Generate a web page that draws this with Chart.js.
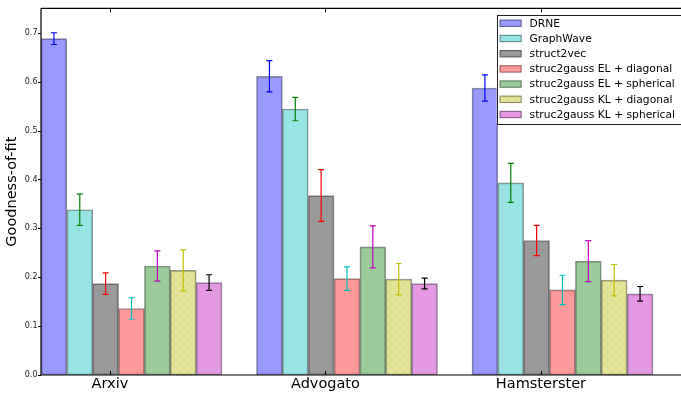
<!DOCTYPE html>
<html>
<head>
<meta charset="utf-8">
<style>
  html, body { margin: 0; padding: 0; background: #ffffff; }
  #wrap { width: 681px; height: 393px; }
</style>
<script src="https://cdn.jsdelivr.net/npm/chart.js@4/dist/chart.umd.min.js"></script>
</head>
<body>
<div id="wrap"><canvas id="chart" width="681" height="393"></canvas></div>
<script>
// Datasets (graphs) on the x axis
const categories = ['Arxiv', 'Advogato', 'Hamsterster'];

// Methods, in legend order
const methods = [
  'DRNE',
  'GraphWave',
  'struct2vec',
  'struc2gauss EL + diagonal',
  'struc2gauss EL + spherical',
  'struc2gauss KL + diagonal',
  'struc2gauss KL + spherical'
];

// Goodness-of-fit per method (Arxiv, Advogato, Hamsterster)
const drne        = [0.688, 0.611, 0.587];
const graphWave   = [0.338, 0.544, 0.393];
const struct2vec  = [0.187, 0.367, 0.275];
const elDiagonal  = [0.136, 0.197, 0.174];
const elSpherical = [0.223, 0.262, 0.233];
const klDiagonal  = [0.214, 0.196, 0.194];
const klSpherical = [0.189, 0.187, 0.166];

// Half-width of the error bars (standard deviation)
const drneErr        = [0.012, 0.032, 0.027];
const graphWaveErr   = [0.032, 0.024, 0.040];
const struct2vecErr  = [0.022, 0.053, 0.031];
const elDiagonalErr  = [0.022, 0.024, 0.030];
const elSphericalErr = [0.031, 0.043, 0.042];
const klDiagonalErr  = [0.042, 0.032, 0.032];
const klSphericalErr = [0.016, 0.011, 0.015];

// Y axis tick values
const yTickValues = [0.0, 0.1, 0.2, 0.3, 0.4, 0.5, 0.6, 0.7];

const seriesValues = [drne, graphWave, struct2vec, elDiagonal, elSpherical, klDiagonal, klSpherical];
const seriesErrors = [drneErr, graphWaveErr, struct2vecErr, elDiagonalErr, elSphericalErr, klDiagonalErr, klSphericalErr];

// Styling
const fillColors = [
  'rgba(0,0,255,0.4)', 'rgba(0,191,191,0.4)', 'rgba(0,0,0,0.4)', 'rgba(255,0,0,0.4)',
  'rgba(0,128,0,0.4)', 'rgba(191,191,0,0.4)', 'rgba(191,0,191,0.4)'
];
const hatches = [null, 'dots', null, null, null, 'cross', null];
const errorColors = ['#0000ff', '#008000', '#ff0000', '#00bfbf', '#bf00bf', '#bfbf00', '#000000'];
const edgeColor = 'rgba(0,0,0,0.42)';
const barStep = 0.12;      // bar width in x units; groups sit at integer x
const tickOffset = 0.32;   // group label position inside each group
const FONT = '"DejaVu Sans", "Liberation Sans", sans-serif';

// Faint hatch fill: base colour with a light texture on top
function hatchFill(color, kind) {
  if (!kind) return color;
  const size = 8;
  const c = document.createElement('canvas');
  c.width = size; c.height = size;
  const g = c.getContext('2d');
  g.fillStyle = color;
  g.fillRect(0, 0, size, size);
  g.strokeStyle = 'rgba(0,0,0,0.04)';
  g.fillStyle = 'rgba(0,0,0,0.04)';
  g.lineWidth = 1;
  if (kind === 'dots') {
    g.beginPath(); g.arc(2, 2, 1.2, 0, Math.PI * 2); g.fill();
    g.beginPath(); g.arc(6, 6, 1.2, 0, Math.PI * 2); g.fill();
  } else if (kind === 'cross') {
    g.beginPath();
    g.moveTo(0, 0); g.lineTo(size, size);
    g.moveTo(size, 0); g.lineTo(0, size);
    g.stroke();
  }
  return g.createPattern(c, 'repeat');
}

const datasets = methods.map((name, i) => ({
  label: name,
  data: categories.map((c, g) => ({ x: g + i * barStep + barStep / 2, y: seriesValues[i][g] })),
  errors: seriesErrors[i],
  errorColor: errorColors[i],
  backgroundColor: hatchFill(fillColors[i], hatches[i]),
  borderColor: edgeColor,
  borderWidth: 1,
  borderSkipped: false,
  grouped: false,
  barPercentage: 1,
  categoryPercentage: 1
}));

// Error bars with caps
const errorBars = {
  id: 'errorBars',
  afterDatasetsDraw(chart) {
    const ctx = chart.ctx;
    const y = chart.scales.y;
    chart.data.datasets.forEach((ds, di) => {
      const meta = chart.getDatasetMeta(di);
      meta.data.forEach((bar, i) => {
        const v = ds.data[i].y, e = ds.errors[i];
        const top = y.getPixelForValue(v + e);
        const bot = y.getPixelForValue(v - e);
        const x = bar.x;
        ctx.save();
        ctx.strokeStyle = ds.errorColor;
        ctx.lineWidth = 1.2;
        ctx.beginPath();
        ctx.moveTo(x, top); ctx.lineTo(x, bot);
        ctx.moveTo(x - 3, top); ctx.lineTo(x + 3, top);
        ctx.moveTo(x - 3, bot); ctx.lineTo(x + 3, bot);
        ctx.stroke();
        ctx.restore();
      });
    });
  }
};

// Axes frame and tick marks
const frame = {
  id: 'frame',
  afterDraw(chart) {
    const ctx = chart.ctx, a = chart.chartArea;
    const x = chart.scales.x, y = chart.scales.y;
    ctx.save();
    ctx.strokeStyle = '#000';
    ctx.lineWidth = 1.2;
    ctx.beginPath();
    ctx.moveTo(a.left, a.top); ctx.lineTo(a.right, a.top);
    ctx.moveTo(a.left, a.top); ctx.lineTo(a.left, a.bottom);
    ctx.moveTo(a.left, a.bottom); ctx.lineTo(a.right, a.bottom);
    ctx.stroke();
    ctx.lineWidth = 1;
    ctx.beginPath();
    x.ticks.forEach(t => {
      const px = Math.round(x.getPixelForValue(t.value)) + 0.5;
      ctx.moveTo(px, a.bottom); ctx.lineTo(px, a.bottom - 4);
      ctx.moveTo(px, a.top); ctx.lineTo(px, a.top + 4);
    });
    y.ticks.forEach(t => {
      const py = Math.round(y.getPixelForValue(t.value)) + 0.5;
      ctx.moveTo(a.left, py); ctx.lineTo(a.left - 3, py);
    });
    ctx.stroke();
    ctx.restore();
  }
};

// Legend box in the upper right corner
const legendBox = {
  id: 'legendBox',
  afterDraw(chart) {
    const ctx = chart.ctx, a = chart.chartArea;
    const ds = chart.data.datasets;
    ctx.save();
    ctx.font = '10.7px ' + FONT;
    const maxW = Math.max(...ds.map(d => ctx.measureText(d.label).width));
    const swW = 22, swH = 7.3, rowH = 15.2;
    const boxW = 3 + swW + 8 + maxW + 6;
    const left = a.right - boxW;
    const top = a.top + 6.3;
    const boxH = rowH * ds.length + 2.8;
    ctx.fillStyle = '#fff';
    ctx.fillRect(left, top, boxW + 10, boxH);
    ctx.strokeStyle = '#222';
    ctx.lineWidth = 1;
    ctx.strokeRect(Math.round(left) + 0.5, Math.round(top) + 0.5, boxW + 10, Math.round(boxH));
    ds.forEach((d, i) => {
      const cy = top + 8.7 + i * rowH;
      const sx = left + 3;
      ctx.fillStyle = d.backgroundColor;
      ctx.fillRect(sx, cy - swH / 2, swW, swH);
      ctx.strokeStyle = d.borderColor;
      ctx.strokeRect(sx + 0.5, cy - swH / 2 + 0.5, swW - 1, swH - 1);
      ctx.fillStyle = '#000';
      ctx.textBaseline = 'middle';
      ctx.textAlign = 'left';
      ctx.fillText(d.label, sx + swW + 8, cy + 0.5);
    });
    ctx.restore();
  }
};

new Chart(document.getElementById('chart'), {
  type: 'bar',
  data: { datasets },
  plugins: [errorBars, frame, legendBox],
  options: {
    responsive: false,
    devicePixelRatio: 1,
    animation: false,
    layout: { padding: { top: 7, right: 0, left: 0, bottom: 0 } },
    plugins: { legend: { display: false }, tooltip: { enabled: false } },
    scales: {
      x: {
        type: 'linear',
        min: 0,
        max: 2.97,
        offset: false,
        grid: { display: false, drawTicks: false, offset: false },
        border: { display: false },
        afterBuildTicks: s => { s.ticks = categories.map((c, i) => ({ value: i + tickOffset })); },
        afterFit: s => { s.height = 18; },
        ticks: {
          autoSkip: false, maxRotation: 0, minRotation: 0, padding: 1,
          color: '#000', font: { family: FONT, size: 14.5 },
          callback: (v, i) => categories[i]
        }
      },
      y: {
        min: 0,
        max: 0.75,
        grid: { display: false, drawTicks: false },
        border: { display: false },
        afterBuildTicks: s => { s.ticks = yTickValues.map(v => ({ value: v })); },
        afterFit: s => { s.width = 41; },
        ticks: {
          padding: 3.5, color: '#222', font: { family: FONT, size: 8 },
          callback: v => Number(v).toFixed(1)
        },
        title: {
          display: true, text: 'Goodness-of-fit', color: '#000',
          font: { family: FONT, size: 14.5 }, padding: { top: 4, bottom: 0 }
        }
      }
    }
  }
});
</script>
</body>
</html>
